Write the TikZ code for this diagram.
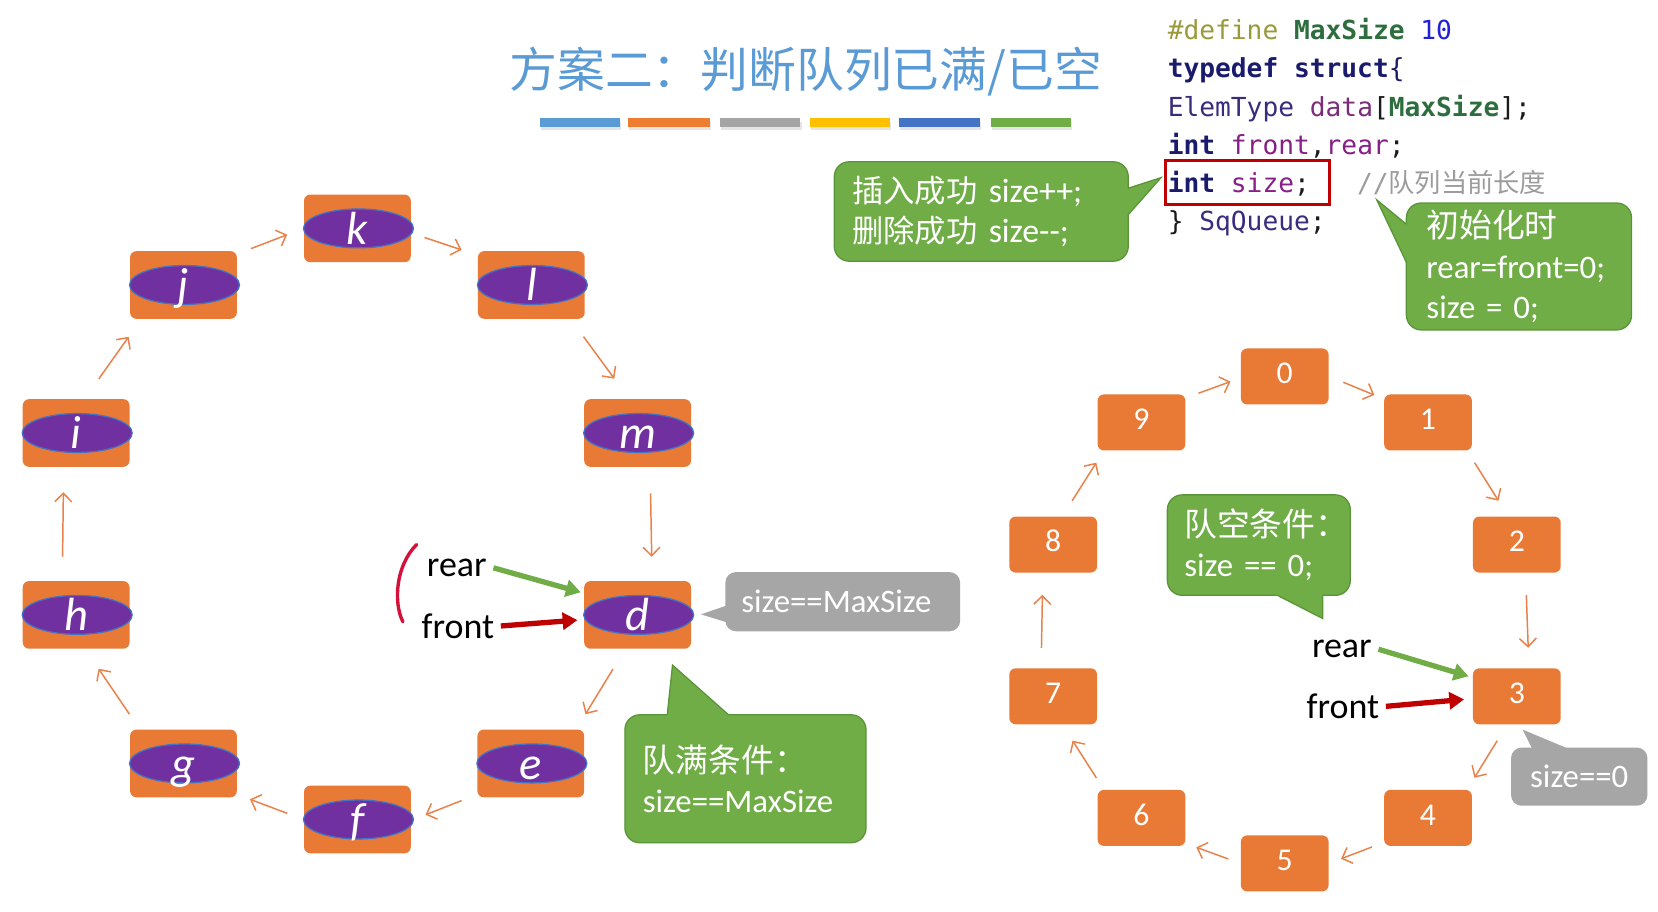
\documentclass[tikz,border=0pt]{standalone}
\usepackage{fontspec}
\setmainfont{Carlito}
\newfontfamily\cjk{Noto Sans CJK SC}
\newfontfamily\codefont{DejaVu Sans Mono}
\usetikzlibrary{arrows.meta,calc}
\definecolor{boxor}{HTML}{E97A35}
\definecolor{arrowor}{HTML}{E9814A}
\definecolor{purp}{HTML}{7030A0}
\definecolor{ellb}{HTML}{4472C4}
\definecolor{gfill}{HTML}{70AD47}
\definecolor{gline}{HTML}{5A9438}
\definecolor{grayfill}{HTML}{A6A6A6}
\definecolor{darkred}{HTML}{C00000}
\definecolor{crim}{HTML}{D5103A}
\definecolor{titleb}{HTML}{5B9BD5}
\definecolor{cdef}{HTML}{9A9A3A}
\definecolor{cmac}{HTML}{2E6E3E}
\definecolor{cnum}{HTML}{2020D8}
\definecolor{ckey}{HTML}{1B1B6E}
\definecolor{ctype}{HTML}{3A2C7C}
\definecolor{cdata}{HTML}{7B2D7B}
\definecolor{cvar}{HTML}{862086}
\definecolor{ccom}{HTML}{9C9C9C}
\definecolor{cplain}{HTML}{1A1A1A}
\definecolor{barA}{HTML}{5B9BD5}
\definecolor{barB}{HTML}{ED7D31}
\definecolor{barC}{HTML}{A5A5A5}
\definecolor{barD}{HTML}{FFC000}
\definecolor{barE}{HTML}{4472C4}
\definecolor{barF}{HTML}{70AD47}
\tikzset{
  lbox/.style={fill=boxor, rounded corners=3pt, minimum width=50.5pt, minimum height=32pt, inner sep=0pt},
  lell/.style={fill=purp, draw=ellb, line width=0.6pt},
  lletter/.style={text=white, font=\fontsize{22}{22}\selectfont\itshape, inner sep=0pt},
  rbox/.style={fill=boxor, rounded corners=3pt, minimum width=41.5pt, minimum height=26.5pt, inner sep=0pt},
  rnum/.style={text=white, font=\fontsize{15}{15}\selectfont, inner sep=0pt},
  ring/.style={draw=arrowor, line width=0.7pt, -{Straight Barb[length=4pt,width=8pt]}},
  garrow/.style={draw=gfill, line width=2.5pt, -{Triangle[length=7pt,width=8pt]}},
  rarrow/.style={draw=darkred, line width=2.5pt, -{Triangle[length=7pt,width=8pt]}},
  gcall/.style={fill=gfill, draw=gline, line width=0.6pt, rounded corners=7pt, text=white, align=left, inner ysep=0pt},
  graycall/.style={fill=grayfill, rounded corners=5pt, text=white, inner sep=0pt, font=\fontsize{15.5}{19}\selectfont},
  lbl/.style={text=black, font=\fontsize{17}{17}\selectfont, inner sep=3pt},
  code/.style={inner sep=0pt, anchor=base west, font=\codefont\fontsize{12.4}{14}\selectfont},
  barline/.style={line width=4pt}
}
\newcommand\mkl[4]{%
  \node[lbox] (#1) at (#2,#3) {};
  \draw[lell] ($(#1.center)+(1,0)$) ellipse [x radius=26pt, y radius=9.2pt];
  \node[lletter, anchor=base] (#1t) at ($(#1.center)+(0,15)$) {#4};
}
\newcommand\mkr[4]{%
  \node[rbox] (#1) at (#2,#3) {};
  \node[rnum, anchor=base] (#1t) at ($(#1.center)+(0,7)$) {#4};
}
\newcommand\gtail[5]{%
  \fill[gfill] #2 -- #1 -- #3 -- #5 -- #4 -- cycle;
  \draw[gline, line width=0.6pt, line join=miter] #2 -- #1 -- #3;
}
\begin{document}
\begin{tikzpicture}[x=0.5pt,y=-0.5pt]
\fill[white] (0,0) rectangle (1568,862);
\useasboundingbox (0,0) rectangle (1568,862);

% title
\node[font=\cjk\fontsize{22.6}{22.6}\selectfont, text=titleb, inner sep=0pt] (title) at (762,68) {方案二：判断队列已满/已空};
\foreach \a/\b/\c in {511/586/barA, 594/671/barB, 681/757/barC, 766/842/barD, 850/927/barE, 937/1013/barF}{
  \draw[barline, black!10] (\a+1,119) -- (\b+1,119);
  \draw[barline, \c] (\a,116) -- (\b,116);
}

% code
\node[code] (c1) at (1104,37) {{\color{cdef}\#define} {\color{cmac}\bfseries MaxSize} {\color{cnum}10}};
\node[code] (c2) at (1104,73) {{\color{ckey}\bfseries typedef struct}{\color{ckey}\{}};
\node[code] (c3) at (1104,110) {{\color{ctype}ElemType} {\color{cdata}data}{\color{cplain}[}{\color{cmac}\bfseries MaxSize}{\color{cplain}];}};
\node[code] (c4) at (1104,146) {{\color{ckey}\bfseries int} {\color{cvar}front}{\color{cplain},}{\color{cvar}rear}{\color{cplain};}};
\node[code] (c5) at (1104,182) {{\color{ckey}\bfseries int} {\color{cvar}size}{\color{cplain};}};
\node[code] (c6) at (1104,218) {{\color{cplain}\}} {\color{ctype}SqQueue}{\color{cplain};}};
\node[code, text=ccom] (cmt) at (1283,182) {//{\cjk 队列当前长度}};
\node[draw=darkred, line width=1.4pt, minimum width=77.5pt, minimum height=20.5pt, inner sep=0pt] (sizebox) at (1179.5,172.5) {};

% callout 1
\node[gcall, inner xsep=8.5pt, text width=122pt, minimum height=47pt, font=\fontsize{16}{18.5}\selectfont] (cb1) at (928,200)
  {{\cjk\fontsize{14.8}{18.5}\selectfont 插入成功} size++;\\{\cjk\fontsize{14.8}{18.5}\selectfont 删除成功} size-{}-;};
\gtail{(1098,168)}{(1067,178)}{(1067,203)}{(1061,178)}{(1061,203)}

% callout 2
\node[gcall, inner xsep=9.5pt, text width=87.5pt, minimum height=60pt, font=\fontsize{15.5}{19.25}\selectfont] (cb2) at (1436.5,252)
  {{\cjk 初始化时}\\rear=front=0;\\size = 0;};
\gtail{(1302,189)}{(1330,212)}{(1330,248)}{(1336,212)}{(1336,248)}

% left ring
\mkl{k}{338}{216}{k}
\mkl{j}{173.5}{269.5}{j}
\mkl{l}{502.5}{269.5}{l}
\mkl{i}{72}{409.5}{i}
\mkl{m}{603}{409.5}{m}
\mkl{h}{72}{581.5}{h}
\mkl{d}{603}{581.5}{d}
\mkl{g}{173.5}{722}{g}
\mkl{e}{502}{722}{e}
\mkl{f}{338}{775}{f}

\draw[ring, shorten <=6.9pt, shorten >=8.3pt] (j.30.5) -- (k.180);
\draw[ring, shorten <=6.6pt, shorten >=7.9pt] (k.-5.5) -- (l.151.4);
\draw[ring, shorten <=10.2pt, shorten >=11.8pt] (l.-41) -- (m.104);
\draw[ring, shorten <=12.3pt, shorten >=11.3pt] (m.-70) -- (d.67.3);
\draw[ring, shorten <=11pt, shorten >=8.3pt] (d.250.7) -- (e.37.9);
\draw[ring, shorten <=7.8pt, shorten >=7.3pt] (e.210) -- (f.-1.6);
\draw[ring, shorten <=8.2pt, shorten >=6.4pt] (f.180) -- (g.-30.5);
\draw[ring, shorten <=8.5pt, shorten >=11.2pt] (g.142) -- (h.-75.3);
\draw[ring, shorten <=11.3pt, shorten >=11.8pt] (h.112.7) -- (i.250);
\draw[ring, shorten <=11.5pt, shorten >=10.2pt] (i.76.8) -- (j.219.8);

% left labels
\node[lbl] (rearL) at (432,537) {rear};
\node[lbl] (frontL) at (433,592) {front};
\draw[garrow, shorten >=1.5pt] (rearL.east) -- (d.158.9);
\draw[rarrow, shorten >=3pt] (frontL.east) -- (d.185.7);
\draw[crim, line width=1.6pt, line cap=round] (394,515) .. controls (374,535) and (372,570) .. (381,588);

% gray callout left
\node[graycall, minimum width=111pt, minimum height=28pt, text width=99pt, inner xsep=6pt, align=center] (gL) at (797,569) {size==MaxSize\hspace*{6pt}};
\fill[grayfill] (692,571) -- (663,581) -- (692,590) -- (698,590) -- (698,571) -- cycle;

% green callout full
\node[gcall, inner xsep=8.5pt, text width=97pt, minimum height=60.5pt, font=\fontsize{15.5}{19}\selectfont] (cb3) at (705,736.5)
  {{\cjk 队满条件：}\\size==MaxSize};
\gtail{(636,629)}{(631,676)}{(689,676)}{(631,682)}{(689,682)}

% right ring
\mkr{r0}{1215}{356}{0}
\mkr{r1}{1350.5}{399.5}{1}
\mkr{r2}{1434.5}{515}{2}
\mkr{r3}{1434.5}{658.5}{3}
\mkr{r4}{1350.5}{773.5}{4}
\mkr{r5}{1215}{816.5}{5}
\mkr{r6}{1079.5}{773.5}{6}
\mkr{r7}{996}{658.5}{7}
\mkr{r8}{996}{515}{8}
\mkr{r9}{1079.5}{399.5}{9}

\draw[ring, shorten <=6.4pt, shorten >=5pt] (r9.29.2) -- (r0.182.2);
\draw[ring, shorten <=7.3pt, shorten >=4.8pt] (r0.0) -- (r1.152.2);
\draw[ring, shorten <=6.6pt, shorten >=8.6pt] (r1.-36.8) -- (r2.107);
\draw[ring, shorten <=10.3pt, shorten >=9.5pt] (r2.-73.8) -- (r3.67.1);
\draw[ring, shorten <=8.9pt, shorten >=6.5pt] (r3.251.4) -- (r4.36.7);
\draw[ring, shorten <=5.9pt, shorten >=6.1pt] (r4.209.5) -- (r5.0);
\draw[ring, shorten <=6.1pt, shorten >=5.3pt] (r5.180) -- (r6.-30);
\draw[ring, shorten <=6.5pt, shorten >=8.9pt] (r6.143.3) -- (r7.-72.4);
\draw[ring, shorten <=9.5pt, shorten >=10.3pt] (r7.113.3) -- (r8.250.1);
\draw[ring, shorten <=8.6pt, shorten >=6.6pt] (r8.72) -- (r9.217.6);

% green callout empty
\node[gcall, inner xsep=8pt, text width=70.5pt, minimum height=47.5pt, font=\fontsize{15.5}{19}\selectfont] (cb4) at (1190.5,515.5)
  {{\cjk 队空条件：}\\size == 0;};
\gtail{(1251,585)}{(1208,563)}{(1251,563)}{(1208,557)}{(1251,557)}

% right labels
\node[lbl] (rearR) at (1269,614) {rear};
\node[lbl] (frontR) at (1270,668) {front};
\draw[garrow, shorten >=2pt] (rearR.east) -- (r3.157);
\draw[rarrow, shorten >=4pt] (frontR.east) -- (r3.183.4);

% gray callout right
\node[graycall, minimum width=64.5pt, minimum height=27.5pt] (gR) at (1493.5,734.5) {size==0};
\fill[grayfill] (1449,708) -- (1440,690) -- (1483,708) -- (1483,714) -- (1449,714) -- cycle;
\end{tikzpicture}
\end{document}
